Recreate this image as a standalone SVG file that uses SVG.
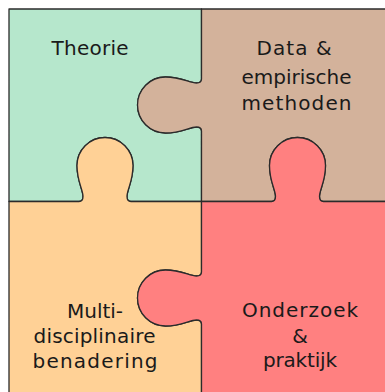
<svg xmlns="http://www.w3.org/2000/svg" width="385" height="392" viewBox="0 0 385 392">
<style>
.piece{stroke:#2b2b2b;stroke-width:1.3;stroke-linejoin:round}
.lbl{font-family:"DejaVu Sans",sans-serif;font-size:20px;fill:#1a1a1a;text-anchor:middle}
</style>
<rect width="385" height="392" fill="#ffffff"/>
<g id="theorie">
<path class="piece" fill="#B6E7CC" d="M9,9 L201.5,9 L201.5,79 Q201.5,83 196.5,83 C189.5,83 181.5,77 165.5,77 A28,28 0 0 0 165.5,133 C181.5,133 189.5,127 196.5,127 Q201.5,127 201.5,131 L201.5,201.5 L131,201.5 Q127,201.5 127,196.5 C127,189.5 133,181.5 133,165.5 A28,28 0 0 0 77,165.5 C77,181.5 83,189.5 83,196.5 Q83,201.5 79,201.5 L9,201.5 Z"/>
<text class="lbl" x="90" y="55" textLength="77">Theorie</text>
</g>
<g id="data">
<path class="piece" fill="#D3B29B" d="M201.5,9 L394,9 L394,201.5 L323.5,201.5 Q319.5,201.5 319.5,196.5 C319.5,189.5 325.5,181.5 325.5,165.5 A28,28 0 0 0 269.5,165.5 C269.5,181.5 275.5,189.5 275.5,196.5 Q275.5,201.5 271.5,201.5 L201.5,201.5 L201.5,131 Q201.5,127 196.5,127 C189.5,127 181.5,133 165.5,133 A28,28 0 0 1 165.5,77 C181.5,77 189.5,83 196.5,83 Q201.5,83 201.5,79 Z"/>
<text class="lbl" x="294" y="55" textLength="75">Data &amp;</text>
<text class="lbl" x="296.5" y="84" textLength="110">empirische</text>
<text class="lbl" x="296.5" y="110" textLength="110">methoden</text>
</g>
<g id="multi">
<path class="piece" fill="#FFD196" d="M9,201.5 L79,201.5 Q83,201.5 83,196.5 C83,189.5 77,181.5 77,165.5 A28,28 0 0 1 133,165.5 C133,181.5 127,189.5 127,196.5 Q127,201.5 131,201.5 L201.5,201.5 L201.5,272 Q201.5,276 196.5,276 C189.5,276 181.5,270 165.5,270 A28,28 0 0 0 165.5,326 C181.5,326 189.5,320 196.5,320 Q201.5,320 201.5,324 L201.5,394 L9,394 Z"/>
<text class="lbl" x="95" y="318" textLength="56">Multi-</text>
<text class="lbl" x="94.5" y="343" textLength="122">disciplinaire</text>
<text class="lbl" x="95" y="368" textLength="125">benadering</text>
</g>
<g id="onderzoek">
<path class="piece" fill="#FF8080" d="M201.5,201.5 L271.5,201.5 Q275.5,201.5 275.5,196.5 C275.5,189.5 269.5,181.5 269.5,165.5 A28,28 0 0 1 325.5,165.5 C325.5,181.5 319.5,189.5 319.5,196.5 Q319.5,201.5 323.5,201.5 L394,201.5 L394,394 L201.5,394 L201.5,324 Q201.5,320 196.5,320 C189.5,320 181.5,326 165.5,326 A28,28 0 0 1 165.5,270 C181.5,270 189.5,276 196.5,276 Q201.5,276 201.5,272 Z"/>
<text class="lbl" x="300" y="316.5" textLength="116">Onderzoek</text>
<text class="lbl" x="300" y="342.5">&amp;</text>
<text class="lbl" x="300" y="366.5" textLength="74">praktijk</text>
</g>
<g id="connectors"></g>
</svg>
